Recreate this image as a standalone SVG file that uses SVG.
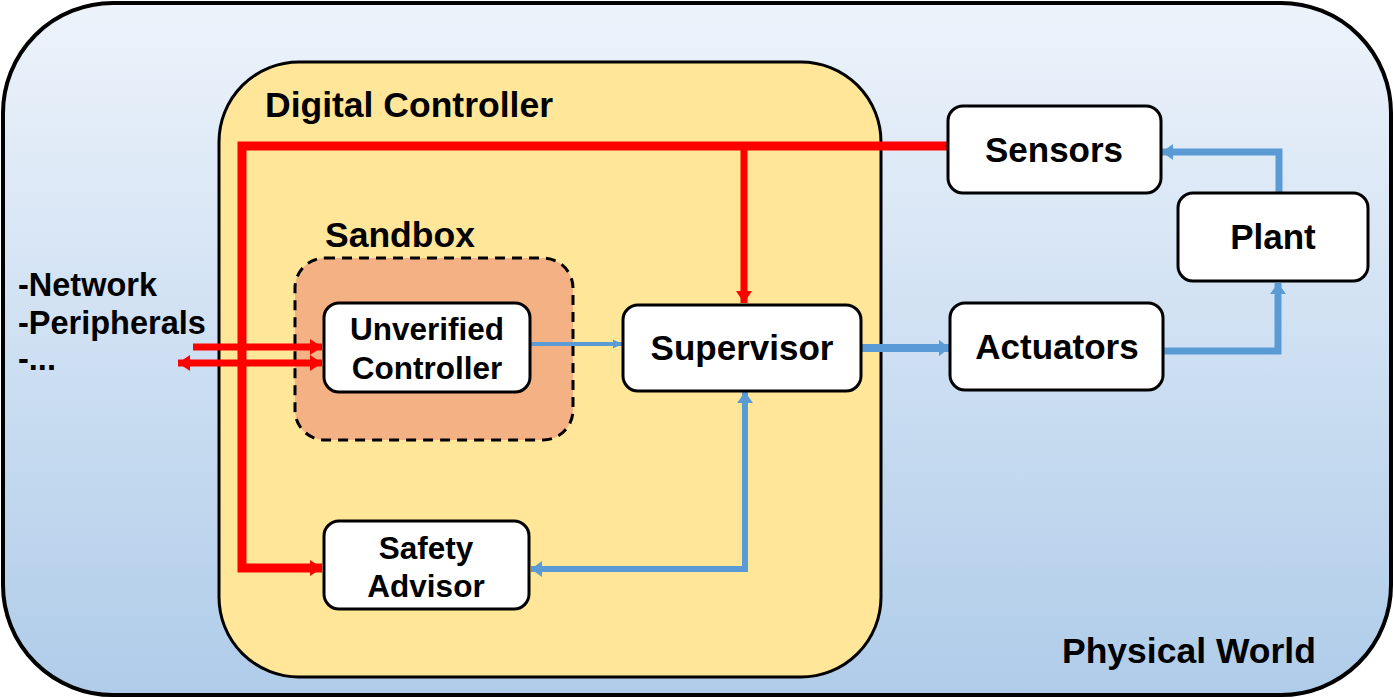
<svg xmlns="http://www.w3.org/2000/svg" width="1394" height="698" viewBox="0 0 1394 698">
<defs>
<linearGradient id="bg" x1="0" y1="0" x2="0" y2="1">
<stop offset="0" stop-color="#edf3fb"/>
<stop offset="1" stop-color="#afcce9"/>
</linearGradient>
<marker id="ar" markerUnits="userSpaceOnUse" markerWidth="20" markerHeight="20" viewBox="0 0 20 20" refX="16" refY="10" orient="auto-start-reverse">
<path d="M4,2 L16,10 L4,18 Z" fill="#ff0000"/>
</marker>
<marker id="ab" markerUnits="userSpaceOnUse" markerWidth="20" markerHeight="20" viewBox="0 0 20 20" refX="16" refY="10" orient="auto-start-reverse">
<path d="M5,2 L16,10 L5,18 Z" fill="#5b9bd5"/>
</marker>
<marker id="abs" markerUnits="userSpaceOnUse" markerWidth="12" markerHeight="12" viewBox="0 0 12 12" refX="11" refY="6" orient="auto">
<path d="M2,1.5 L11,6 L2,10.5 Z" fill="#5b9bd5"/>
</marker>
</defs>
<style>
text{font-family:"Liberation Sans",Arial,sans-serif;font-weight:bold;fill:#000}
.box{fill:#fff;stroke:#000;stroke-width:3}
.hd{font-size:35.5px}
.lbl{font-size:35px;text-anchor:middle}
.lbl2{font-size:31.5px;text-anchor:middle}
.lst{font-size:32.5px}
.red{fill:none;stroke:#ff0000;stroke-linejoin:miter}
.blue{fill:none;stroke:#5b9bd5;stroke-linejoin:miter}
</style>
<g id="physical-world">
<rect x="3" y="3" width="1388" height="692" rx="110" ry="110" fill="url(#bg)" stroke="#000" stroke-width="4"/>
<text class="hd" x="1062" y="663">Physical World</text>
</g>
<g id="digital-controller">
<rect x="219" y="62" width="662" height="615" rx="80" ry="80" fill="#ffe699" stroke="#000" stroke-width="3"/>
<text class="hd" x="265" y="117">Digital Controller</text>
</g>
<g id="sandbox">
<rect x="295" y="258" width="278" height="182" rx="30" ry="30" fill="#f4b183" stroke="#000" stroke-width="3" stroke-dasharray="10,7"/>
<text class="hd" x="325" y="247">Sandbox</text>
</g>
<g id="external-list">
<text class="lst" x="18" y="296">-Network</text>
<text class="lst" x="18" y="334">-Peripherals</text>
<text class="lst" x="18" y="370">-...</text>
</g>
<g id="connectors">
<path class="red" d="M948,146 L242,146 L242,568 L322,568" stroke-width="9" marker-end="url(#ar)"/>
<path class="red" d="M744,146 L744,303" stroke-width="7" marker-end="url(#ar)"/>
<path class="red" d="M193,347 L322,347" stroke-width="7" marker-end="url(#ar)"/>
<path class="red" d="M178,363 L322,363" stroke-width="7" marker-start="url(#ar)" marker-end="url(#ar)"/>
<path class="blue" d="M530,344 L622,344" stroke-width="4" marker-end="url(#abs)"/>
<path class="blue" d="M862,348 L950,348" stroke-width="8" marker-end="url(#ab)"/>
<path class="blue" d="M745,392 L745,569 L531,569" stroke-width="6" marker-start="url(#ab)" marker-end="url(#ab)"/>
<path class="blue" d="M1279,193 L1279,152 L1162,152" stroke-width="7" marker-end="url(#ab)"/>
<path class="blue" d="M1164,351 L1278,351 L1278,283" stroke-width="7" marker-end="url(#ab)"/>
</g>
<g id="sensors">
<rect class="box" x="948" y="106" width="213" height="87" rx="15" ry="15"/>
<text class="lbl" x="1054" y="162">Sensors</text>
</g>
<g id="plant">
<rect class="box" x="1178" y="193" width="190" height="88" rx="15" ry="15"/>
<text class="lbl" x="1273" y="249">Plant</text>
</g>
<g id="actuators">
<rect class="box" x="950" y="303" width="213" height="87" rx="15" ry="15"/>
<text class="lbl" x="1057" y="359">Actuators</text>
</g>
<g id="supervisor">
<rect class="box" x="623" y="305" width="238" height="86" rx="15" ry="15"/>
<text class="lbl" x="742" y="360">Supervisor</text>
</g>
<g id="unverified-controller">
<rect class="box" x="324" y="303" width="206" height="89" rx="15" ry="15"/>
<text class="lbl2" x="427" y="340">Unverified</text>
<text class="lbl2" x="427" y="379">Controller</text>
</g>
<g id="safety-advisor">
<rect class="box" x="324" y="521" width="205" height="88" rx="15" ry="15"/>
<text class="lbl2" x="426" y="559">Safety</text>
<text class="lbl2" x="426" y="597">Advisor</text>
</g>
</svg>
